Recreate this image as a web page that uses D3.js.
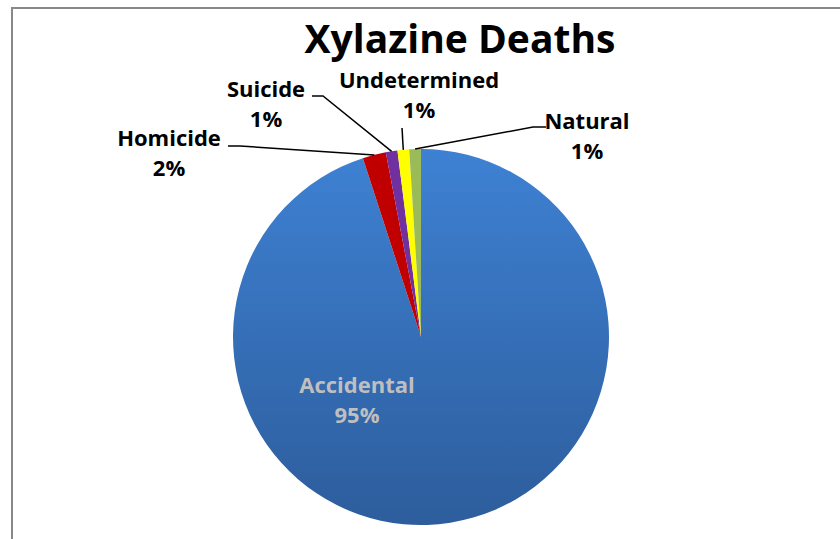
<!DOCTYPE html>
<html>
<head>
<meta charset="utf-8">
<script src="https://cdn.jsdelivr.net/npm/d3@7"></script>
<style>
  html, body { margin: 0; padding: 0; background: #ffffff; }
  svg { display: block; }
  text { font-family: "Open Sans", "Lato", sans-serif; font-weight: bold; }
</style>
</head>
<body>
<svg id="chart" width="840" height="539"></svg>
<script>
// Manner of death for xylazine-involved deaths (percent of total)
const categories = ["Accidental", "Homicide", "Suicide", "Undetermined", "Natural"];
const percents = [95, 2, 1, 1, 1];
const sliceColors = ["url(#blueGrad)", "#C00000", "#7030A0", "#FFFF00", "#9BBB59"];
const titleText = "Xylazine Deaths";

const width = 840, height = 539;
const cx = 421, cy = 337, radius = 188;

const svg = d3.select("#chart");

// Frame around the chart area
svg.append("path")
  .attr("d", `M12,${height + 2} L12,8 L${width + 2},8`)
  .attr("fill", "none")
  .attr("stroke", "#898989")
  .attr("stroke-width", 2);

// Vertical shading for the large slice (coordinates relative to pie center)
const defs = svg.append("defs");
const grad = defs.append("linearGradient")
  .attr("id", "blueGrad")
  .attr("gradientUnits", "userSpaceOnUse")
  .attr("x1", 0).attr("y1", -radius)
  .attr("x2", 0).attr("y2", radius);
grad.append("stop").attr("offset", "0%").attr("stop-color", "#3E81D3");
grad.append("stop").attr("offset", "100%").attr("stop-color", "#2D5D9C");

const data = categories.map((c, i) => ({ name: c, value: percents[i], color: sliceColors[i] }));

const pie = d3.pie().sort(null).value(d => d.value).startAngle(0).endAngle(2 * Math.PI);
const arcs = pie(data);
const arcGen = d3.arc().innerRadius(0).outerRadius(radius);

const g = svg.append("g").attr("transform", `translate(${cx},${cy})`);
g.selectAll("path.slice")
  .data(arcs)
  .join("path")
  .attr("class", "slice")
  .attr("d", arcGen)
  .attr("fill", d => d.data.color);

// Title
svg.append("text")
  .attr("x", 460).attr("y", 53)
  .attr("text-anchor", "middle")
  .attr("font-size", 39)
  .attr("fill", "#000")
  .text(titleText);

// Label placement for each category: text center, first baseline, leader start points
const labelLayout = {
  "Accidental":   { x: 357, y: 393, color: "#BFBFBF", leader: null },
  "Homicide":     { x: 169, y: 146, color: "#000", leader: [[228, 146], [240, 146]] },
  "Suicide":      { x: 266, y: 97,  color: "#000", leader: [[312, 96], [323, 96]] },
  "Undetermined": { x: 419, y: 88,  color: "#000", leader: [[402, 128]] },
  "Natural":      { x: 587, y: 129, color: "#000", leader: [[546, 127], [533, 127]] }
};

const line = d3.line();
arcs.forEach(a => {
  const lay = labelLayout[a.data.name];
  if (lay.leader) {
    const mid = (a.startAngle + a.endAngle) / 2;
    const px = cx + radius * Math.sin(mid);
    const py = cy - radius * Math.cos(mid);
    svg.append("path")
      .attr("d", line(lay.leader.concat([[px, py]])))
      .attr("fill", "none")
      .attr("stroke", "#000")
      .attr("stroke-width", 1.5);
  }
  const t = svg.append("text")
    .attr("text-anchor", "middle")
    .attr("font-size", 22)
    .attr("fill", lay.color);
  t.append("tspan").attr("x", lay.x).attr("y", lay.y).text(a.data.name);
  t.append("tspan").attr("x", lay.x).attr("y", lay.y + 30).text(a.data.value + "%");
});
</script>
</body>
</html>
